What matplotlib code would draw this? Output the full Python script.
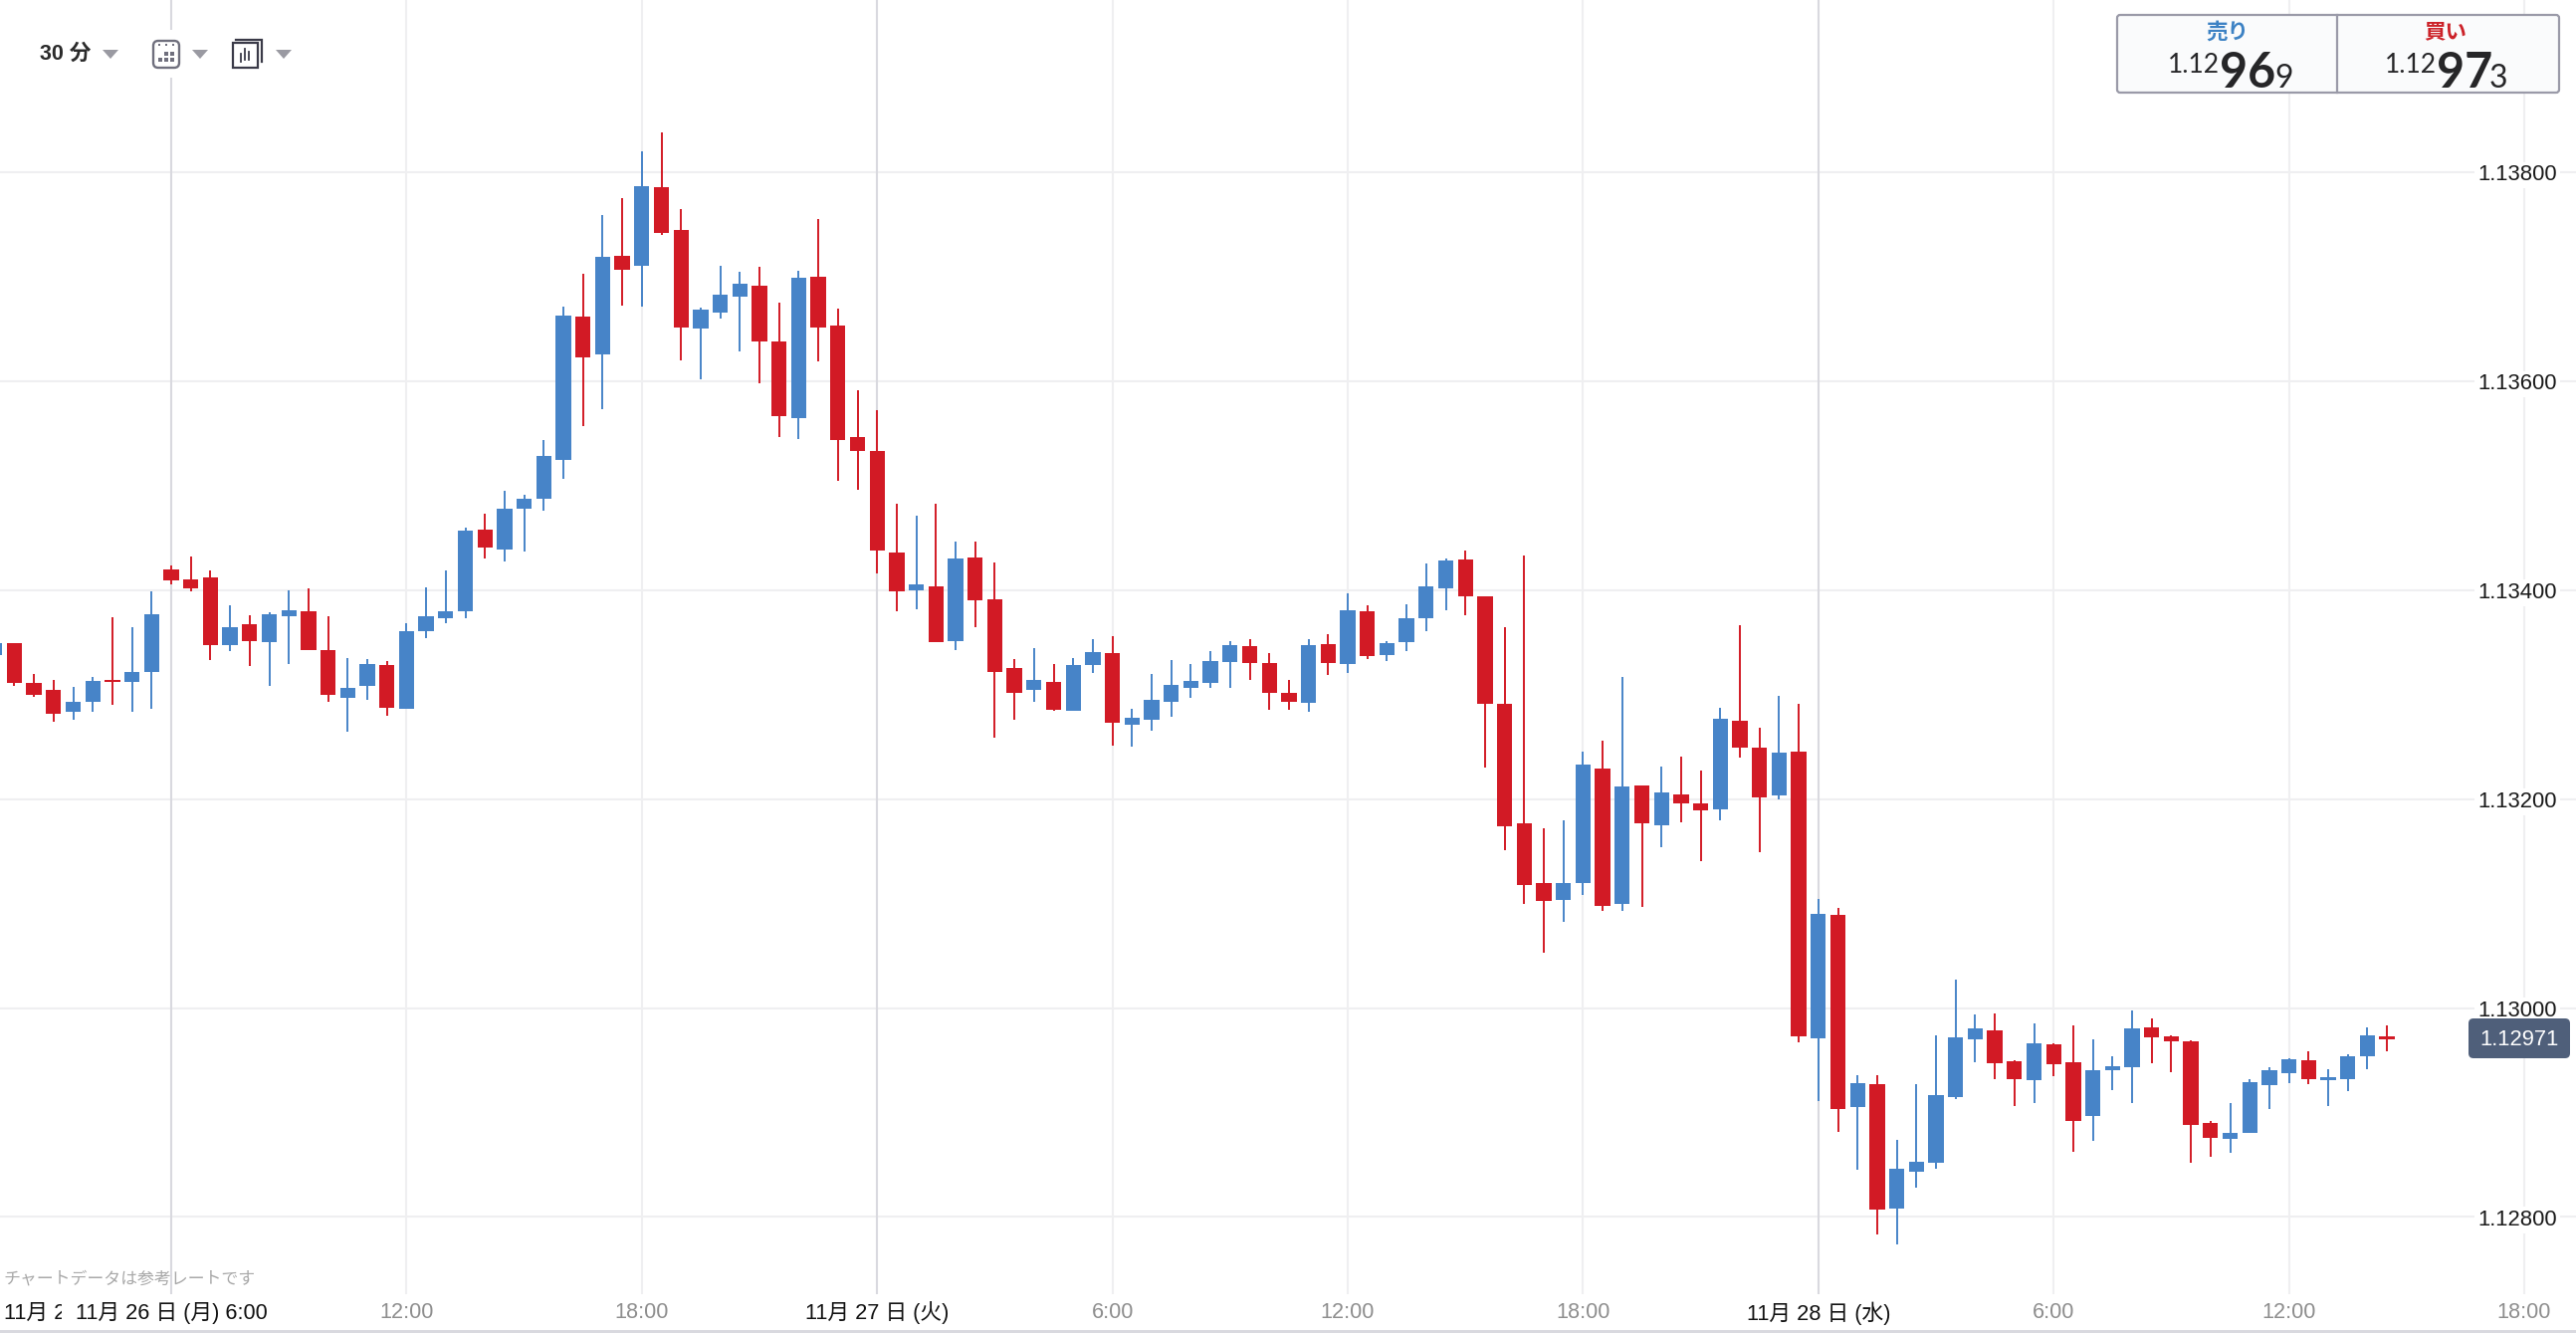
import numpy as np
import matplotlib
matplotlib.use('Agg')
import matplotlib.pyplot as plt
from matplotlib.patches import Rectangle, FancyBboxPatch, Polygon

plt.rcParams['font.family'] = ['Liberation Sans', 'Noto Sans CJK JP']

# 30分足, 価格は 1e-5 単位
opens = [113338, 113349, 113311, 113304, 113283, 113293, 113314, 113312, 113322, 113420,
         113410, 113412, 113347, 113367, 113350, 113375, 113380, 113343, 113297, 113308,
         113328, 113286, 113361, 113373, 113380, 113458, 113439, 113478, 113487, 113525,
         113662, 113626, 113720, 113710, 113786, 113745, 113650, 113666, 113681, 113691,
         113638, 113565, 113700, 113653, 113546, 113533, 113436, 113400, 113404, 113351,
         113431, 113391, 113325, 113304, 113312, 113284, 113328, 113340, 113271, 113276,
         113293, 113306, 113311, 113331, 113346, 113330, 113302, 113292, 113348, 113329,
         113380, 113338, 113350, 113373, 113402, 113429, 113394, 113291, 113177, 113120,
         113103, 113120, 113229, 113100, 113213, 113175, 113204, 113196, 113190, 113275,
         113249, 113203, 113245, 112971, 113089, 112905, 112927, 112808, 112843, 112852,
         112915, 112970, 112979, 112949, 112931, 112965, 112948, 112897, 112940, 112943,
         112981, 112973, 112968, 112890, 112875, 112880, 112926, 112938, 112950, 112931,
         112932, 112954, 112973]
closes = [113349, 113311, 113300, 113282, 113293, 113313, 113312, 113322, 113377, 113409,
          113402, 113347, 113364, 113351, 113377, 113381, 113343, 113300, 113306, 113329,
          113287, 113361, 113375, 113380, 113457, 113441, 113478, 113487, 113528, 113663,
          113623, 113719, 113707, 113787, 113742, 113651, 113668, 113683, 113693, 113638,
          113566, 113699, 113651, 113544, 113533, 113438, 113399, 113405, 113350, 113430,
          113390, 113322, 113302, 113314, 113285, 113328, 113341, 113273, 113278, 113295,
          113309, 113313, 113332, 113347, 113330, 113302, 113293, 113347, 113330, 113381,
          113337, 113349, 113373, 113404, 113428, 113394, 113291, 113174, 113118, 113102,
          113120, 113233, 113098, 113212, 113177, 113206, 113196, 113189, 113277, 113249,
          113202, 113244, 112973, 113090, 112903, 112928, 112807, 112846, 112853, 112917,
          112972, 112980, 112947, 112932, 112966, 112946, 112892, 112940, 112944, 112980,
          112972, 112968, 112888, 112876, 112880, 112929, 112940, 112951, 112932, 112934,
          112954, 112974, 112970]
highs = [113349, 113349, 113320, 113314, 113307, 113317, 113374, 113364, 113399, 113424,
         113432, 113419, 113385, 113376, 113379, 113400, 113402, 113375, 113335, 113334,
         113332, 113368, 113403, 113419, 113460, 113473, 113495, 113491, 113544, 113671,
         113703, 113759, 113775, 113820, 113838, 113765, 113670, 113710, 113705, 113709,
         113675, 113706, 113755, 113669, 113591, 113572, 113483, 113471, 113483, 113446,
         113446, 113426, 113334, 113344, 113329, 113335, 113353, 113356, 113286, 113320,
         113333, 113329, 113342, 113351, 113353, 113340, 113314, 113353, 113358, 113397,
         113385, 113351, 113386, 113425, 113430, 113438, 113394, 113364, 113433, 113172,
         113180, 113245, 113256, 113317, 113213, 113231, 113241, 113227, 113287, 113366,
         113268, 113299, 113291, 113104, 113096, 112936, 112936, 112874, 112927, 112974,
         113027, 112994, 112995, 112950, 112985, 112966, 112983, 112970, 112954, 112998,
         112990, 112974, 112969, 112892, 112909, 112932, 112943, 112952, 112959, 112941,
         112956, 112981, 112983]
lows = [113335, 113308, 113298, 113274, 113276, 113283, 113290, 113283, 113286, 113405,
        113399, 113333, 113342, 113327, 113308, 113329, 113343, 113293, 113264, 113295,
        113280, 113286, 113354, 113368, 113373, 113430, 113427, 113437, 113476, 113506,
        113557, 113573, 113672, 113671, 113740, 113620, 113602, 113660, 113628, 113598,
        113546, 113545, 113619, 113505, 113496, 113416, 113380, 113382, 113350, 113343,
        113364, 113259, 113276, 113293, 113284, 113284, 113321, 113251, 113250, 113265,
        113279, 113297, 113306, 113306, 113314, 113285, 113285, 113283, 113319, 113321,
        113334, 113332, 113342, 113361, 113381, 113376, 113230, 113151, 113100, 113053,
        113082, 113108, 113093, 113093, 113097, 113154, 113178, 113141, 113180, 113240,
        113149, 113200, 112967, 112911, 112881, 112845, 112783, 112774, 112828, 112846,
        112913, 112948, 112932, 112906, 112909, 112935, 112862, 112873, 112921, 112909,
        112947, 112939, 112852, 112858, 112861, 112880, 112903, 112928, 112927, 112906,
        112920, 112941, 112959]
first_bar = -9  # 0 が 11月26日 6:00

price_ticks = [1.138, 1.136, 1.134, 1.132, 1.130, 1.128]
price_labels = ['1.13800', '1.13600', '1.13400', '1.13200', '1.13000', '1.12800']
minor_bars = [12, 24, 48, 60, 72, 96, 108, 120]
minor_labels = ['12:00', '18:00', '6:00', '12:00', '18:00', '6:00', '12:00', '18:00']
major_bars = [0, 36, 84]
major_labels = ['11月 26 日 (月) 6:00', '11月 27 日 (火)', '11月 28 日 (水)']
last_price = '1.12971'

W, H = 2588, 1342
BLUE = '#4784c8'
RED = '#d21a25'
GRID = '#efeff1'
MAJOR = '#d9d9df'

fig = plt.figure(figsize=(W / 100, H / 100), dpi=100, facecolor='white')

# チャート本体
ax = fig.add_axes([0, 0, 1, 1])
ax.set_xlim(-172 / 19.7, (W - 172) / 19.7)
ax.set_ylim(1.138 - (H - 172.9) / 209.9 * 0.002, 1.138 + 172.9 / 209.9 * 0.002)
ax.set_axis_off()

y_top = ax.get_ylim()[1]
y_end = 1.138 - (1300 - 172.9) / 209.9 * 0.002
ax.hlines(price_ticks, *ax.get_xlim(), color=GRID, lw=1.5, zorder=1)
ax.vlines(minor_bars, y_end, y_top, color=GRID, lw=1.5, zorder=1)
ax.vlines(major_bars, y_end, y_top, color=MAJOR, lw=1.5, zorder=1.5)

o = np.array(opens) / 1e5
c = np.array(closes) / 1e5
h = np.array(highs) / 1e5
l = np.array(lows) / 1e5
xs = np.arange(first_bar, first_bar + len(o))
colors = [BLUE if b >= a else RED for a, b in zip(o, c)]
ax.vlines(xs, l, h, color=colors, lw=1.4, zorder=2)
ax.bar(xs, np.abs(c - o), bottom=np.minimum(o, c), width=0.78, color=colors, zorder=3)

# 価格ラベル
for p, s in zip(price_ticks, price_labels):
    ax.annotate(s, (2529 / 19.7 - 172 / 19.7, p), xytext=(0, -2.2), textcoords='offset points',
                ha='center', va='center', fontsize=15.8, color='#1a1a1a',
                bbox=dict(facecolor='white', edgecolor='none', pad=2), zorder=4)

# 上に重ねるUI (ピクセル座標)
ui = fig.add_axes([0, 0, 1, 1])
ui.set_xlim(0, W)
ui.set_ylim(H, 0)
ui.set_axis_off()
ui.patch.set_alpha(0)

# 時間軸
for b, s in zip(minor_bars, minor_labels):
    ui.text(172 + 19.7 * b, 1319, s, ha='center', va='center', fontsize=15.6, color='#8e8e8e')
for b, s in zip(major_bars, major_labels):
    ui.text(172 + 19.7 * b, 1319, s, ha='center', va='center', fontsize=15.7, color='#111111')
cut = ui.text(4, 1319, '11月 2', ha='left', va='center', fontsize=15.7, color='#111111')
cut.set_clip_on(True)
cut.set_clip_path(Rectangle((0, 1290), 62, 50, transform=ui.transData))
ui.add_patch(Rectangle((0, 1335.5), W, 3, color=MAJOR, lw=0))
ui.text(3, 1285, 'チャートデータは参考レートです', ha='left', va='center', fontsize=12.2, color='#a8a8a8')

# 左上のツールバー
ui.add_patch(Rectangle((140, 30), 160, 48, color='white', lw=0))
ui.text(40, 54, '30 分', ha='left', va='center', fontsize=15.5, fontweight='bold', color='#2b2b2b')
for tx in [103, 193, 277]:
    ui.add_patch(Polygon([(tx, 50), (tx + 16, 50), (tx + 8, 59)], color='#9a9aa2', lw=0))
ui.add_patch(FancyBboxPatch((154, 41), 26, 27, boxstyle='round,pad=0,rounding_size=5',
                            fc='white', ec='#6f6f7d', lw=1.7))
for dx in [159, 166, 173]:
    ui.add_patch(Rectangle((dx, 44), 2, 2, color='#6f6f7d', lw=0))
for dx, dy in [(165, 52), (171, 52), (159, 58), (165, 58), (171, 58)]:
    ui.add_patch(Rectangle((dx, dy), 4, 4, color='#6f6f7d', lw=0))
ui.plot([237, 263, 263], [39.5, 39.5, 62], color='#3a3a48', lw=1.6, solid_joinstyle='miter')
ui.add_patch(Rectangle((234, 43), 25, 25, fc='white', ec='#3a3a48', lw=1.6))
for bx, y0, y1 in [(242, 54, 62), (246, 49, 60), (250, 52, 60)]:
    ui.plot([bx, bx], [y0, y1], color='#3a3a48', lw=1.3)

# 売り / 買い ボックス
ui.add_patch(FancyBboxPatch((2127, 15), 444, 78, boxstyle='round,pad=0,rounding_size=3',
                            fc='#fafbfc', ec='#9a9aa8', lw=1.6, zorder=5))
ui.plot([2348, 2348], [15, 93], color='#9a9aa8', lw=1.6, zorder=6)
ui.text(2238, 33, '売り', ha='center', va='center', fontsize=15.5, fontweight='bold', color='#3d82c4', zorder=6)
ui.text(2457, 33, '買い', ha='center', va='center', fontsize=15.5, fontweight='bold', color='#cc2229', zorder=6)
quote_parts = [(2178, 73, '1.12', 19, 'normal'), (2230, 88, '96', 35, 'bold'), (2285, 88, '9', 23, 'normal'),
               (2396, 73, '1.12', 19, 'normal'), (2448, 88, '97', 35, 'bold'), (2501, 88, '3', 23, 'normal')]
for qx, qy, s, fs, w in quote_parts:
    ui.text(qx, qy, s, ha='left', va='baseline', fontsize=fs, fontweight=w, family='Lato', color='#262628', zorder=6)

# 現在値
ui.add_patch(FancyBboxPatch((2480, 1023), 102, 40, boxstyle='round,pad=0,rounding_size=5',
                            fc='#4f5f7a', ec='none', zorder=5))
ui.text(2531, 1044.5, last_price, ha='center', va='center', fontsize=15.8, color='white', zorder=6)

fig.savefig('out.png', dpi=100, facecolor='white')
